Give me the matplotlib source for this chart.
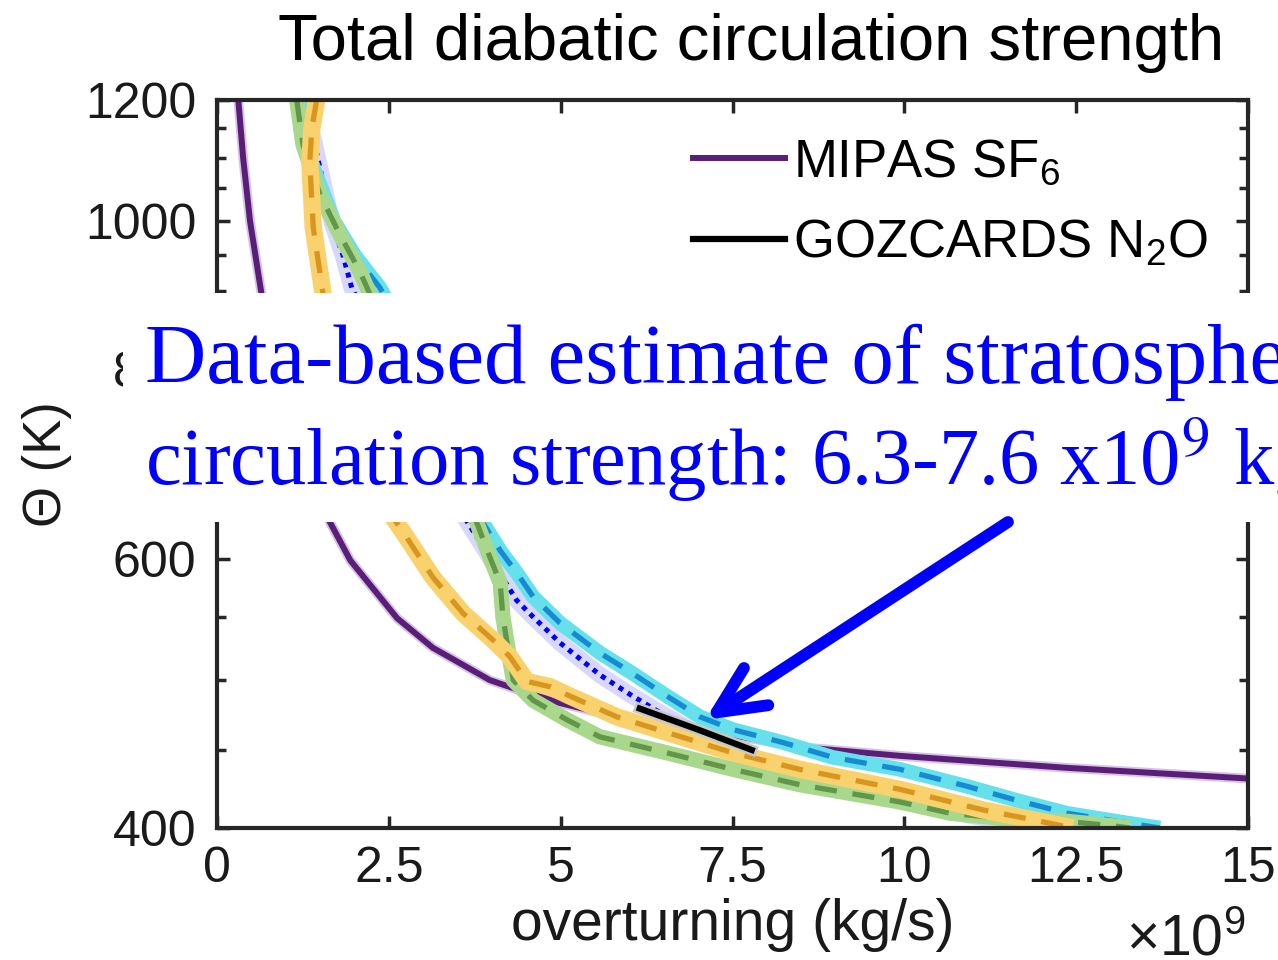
import matplotlib
matplotlib.use('Agg')
import matplotlib.pyplot as plt
from matplotlib.patches import Rectangle, FancyArrowPatch
from matplotlib.ticker import FuncFormatter, NullFormatter

plt.rcParams['font.family'] = ['Liberation Sans', 'DejaVu Sans']
plt.rcParams['mathtext.fontset'] = 'custom'
plt.rcParams['mathtext.rm'] = 'Liberation Sans'
plt.rcParams['mathtext.it'] = 'Liberation Sans:italic'
plt.rcParams['mathtext.bf'] = 'Liberation Sans:bold'

# overturning in units of 1e9 kg/s, theta in K
mipas_x = [0.31, 0.38, 0.48, 0.65, 0.95, 1.30, 1.64, 1.94, 2.62, 3.14, 3.97, 4.31,
           4.99, 5.57, 6.30, 7.51, 8.48, 9.94, 12.37, 15.0]
mipas_th = [1200, 1100, 1000, 894, 800, 700, 635, 599, 549, 525, 500, 494,
            483, 476, 468, 460, 452, 446, 438, 431]

goz_x = [6.15, 7.0, 7.78]
goz_th = [479, 464, 450]

blue_x = [1.25, 1.40, 1.53, 1.67, 1.83, 1.96, 2.25, 2.55, 2.85, 3.15, 3.5, 3.64,
          4.36, 4.60, 4.99, 5.57, 6.05, 6.55, 7.51, 8.0, 8.73, 9.46, 9.94, 10.91,
          11.87, 12.41]
blue_th = [1200, 1133, 1067, 998, 950, 904, 850, 800, 750, 700, 650, 635,
           564, 550, 529, 504, 488, 473, 448, 439, 430, 422, 419, 408,
           401, 400]

cyan_x = [1.20, 1.35, 1.70, 2.00, 2.37, 2.7, 3.0, 3.3, 3.6, 3.87, 4.12, 4.36, 4.60,
          4.99, 5.57, 6.05, 6.55, 7.03, 7.51, 8.24, 8.96, 9.94, 10.91, 11.64,
          12.37, 13.1, 13.72]
cyan_th = [1200, 1100, 1000, 950, 904, 850, 800, 750, 700, 634, 608, 588, 567,
           545, 521, 505, 488, 473, 464, 455, 445, 437, 426, 417,
           409, 404, 400]

green_x = [1.16, 1.25, 1.50, 1.79, 2.08, 2.23, 2.5, 2.8, 3.1, 3.4, 3.78, 3.97, 4.12,
           4.16, 4.22, 4.31, 4.60, 5.09, 5.57, 6.55, 7.51, 8.48, 9.94, 10.67,
           11.39, 12.37, 13.1, 13.28]
green_th = [1200, 1122, 1040, 979, 926, 894, 850, 800, 750, 700, 634, 602, 579,
            550, 529, 500, 485, 471, 459, 448, 437, 427, 416, 409,
            406, 404, 401, 400]

orange_x = [1.45, 1.38, 1.35, 1.40, 1.53, 1.62, 1.75, 1.93, 2.15, 2.45, 2.76, 3.14,
            3.58, 4.02, 4.26, 4.51, 4.85, 5.14, 5.82, 6.55, 7.51, 8.48, 9.94,
            11.15, 11.87, 12.45]
orange_th = [1200, 1150, 1093, 990, 904, 850, 800, 750, 700, 650, 620, 584,
             553, 531, 518, 499, 495, 488, 473, 462, 448, 437, 424,
             411, 405, 400]

xticks = [0, 2.5, 5, 7.5, 10, 12.5, 15]
yticks = [400, 600, 800, 1000, 1200]
yminor = list(range(450, 1200, 50))

fig = plt.figure(figsize=(12.78, 9.6), dpi=100)
ax = fig.add_axes([217/1278, 1-828/960, 1031/1278, 728/960])

# purple
ax.plot(mipas_x, mipas_th, color='#d6c4e6', lw=7, solid_capstyle='butt')
p1, = ax.plot(mipas_x, mipas_th, color='#5a1e78', lw=4.3, label='MIPAS SF$_6$')
# blue dotted
ax.plot(blue_x, blue_th, color='#d8d8ff', lw=12, solid_capstyle='butt')
ax.plot(blue_x, blue_th, color='#0000ff', lw=3.6, dashes=(1.0, 1.1))
# cyan
ax.plot(cyan_x, cyan_th, color='#66e0ea', lw=10.5, solid_capstyle='butt')
ax.plot(cyan_x, cyan_th, color='#168bd4', lw=3.8, dashes=(4.2, 3.0))
# green
ax.plot(green_x, green_th, color='#a9d88c', lw=11, solid_capstyle='butt')
ax.plot(green_x, green_th, color='#62964a', lw=3.8, dashes=(4.2, 3.0))
# orange
ax.plot(orange_x, orange_th, color='#f9d26e', lw=12.5, solid_capstyle='butt')
ax.plot(orange_x, orange_th, color='#d8961f', lw=3.8, dashes=(4.2, 3.0))
# black
ax.plot(goz_x, goz_th, color='#c8c8c8', lw=8, solid_capstyle='projecting')
p2, = ax.plot(goz_x, goz_th, color='black', lw=4.5, label='GOZCARDS N$_2$O')

ax.set_yscale('log')
ax.set_xlim(0, 15)
ax.set_ylim(400, 1200)
ax.set_xticks(xticks)
ax.xaxis.set_major_formatter(FuncFormatter(lambda v, p: '%g' % v))
ax.set_yticks(yticks)
ax.set_yticks(yminor, minor=True)
ax.yaxis.set_major_formatter(FuncFormatter(lambda v, p: '%g' % v))
ax.yaxis.set_minor_formatter(NullFormatter())

ax.tick_params(which='both', direction='in', top=True, right=True,
               color='#262626', width=2.5, labelsize=36, labelcolor='#1a1a1a')
ax.tick_params(which='major', length=9)
ax.tick_params(which='minor', length=6.5)
ax.tick_params(axis='y', pad=15)
ax.tick_params(axis='x', pad=13)
for s in ax.spines.values():
    s.set_linewidth(3)
    s.set_color('#262626')

ax.set_xlabel('overturning (kg/s)', fontsize=41, color='#1a1a1a')
ax.xaxis.set_label_coords(0.5, -0.096)
ax.set_ylabel('Θ (K)', fontsize=38, color='#1a1a1a')
ax.yaxis.set_label_coords(-0.1406, 0.5)

ax.legend(handles=[p1, p2], loc='upper left', bbox_to_anchor=(0.4617, 0.949),
          frameon=False, fontsize=38, handlelength=1.74, handletextpad=0.15,
          borderpad=0, borderaxespad=0, labelspacing=0.58)

fig.text(751/1278, 1-60/960, 'Total diabatic circulation strength',
         ha='center', va='baseline', fontsize=47)
fig.text(1245/1278, 1-955/960, r'$\times10^{9}$', ha='right', va='baseline',
         fontsize=41, color='#1a1a1a')

# white overlay box with the blue note
fig.add_artist(Rectangle((123/1278, 1-522/960), 1-123/1278, 229/960,
                         transform=fig.transFigure, facecolor='white',
                         edgecolor='none', zorder=5))
fig.text(145/1278, 1-383/960, 'Data-based estimate of stratospheric',
         ha='left', va='baseline', fontsize=61, color='#0000ff',
         family=['Liberation Serif', 'DejaVu Serif'], zorder=6)
fig.text(145/1278, 1-485/960, 'circulation strength: 6.3-7.6 x10$^9$ kg/s',
         ha='left', va='baseline', fontsize=58, color='#0000ff',
         family=['Liberation Serif', 'DejaVu Serif'], math_fontfamily='stix',
         zorder=6)

arr = FancyArrowPatch((1008/1278, 1-522/960), (705/1278, 1-720/960),
                      transform=fig.transFigure,
                      arrowstyle='->,head_length=34,head_width=16',
                      mutation_scale=1, lw=8.5, color='#0000ff',
                      capstyle='round', joinstyle='round',
                      shrinkA=0, shrinkB=0, zorder=7)
fig.add_artist(arr)

fig.savefig('out.png', dpi=100)
